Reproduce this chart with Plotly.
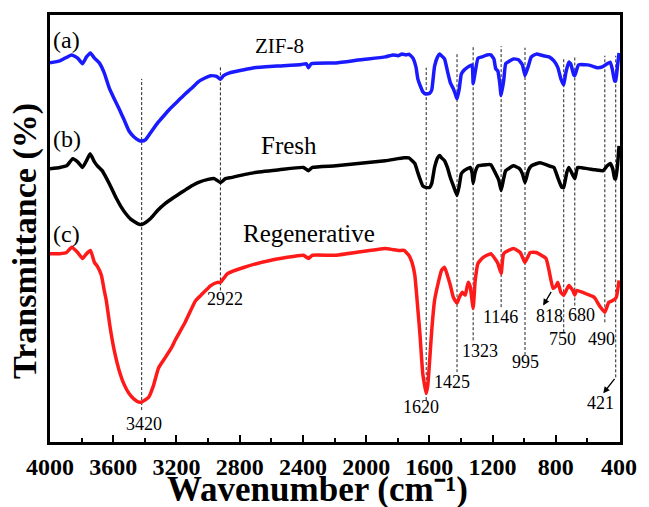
import plotly.graph_objects as go

# FTIR spectra (transmittance, arbitrary offset units)
wn_zif8 = [4000, 3938, 3863, 3825, 3794, 3769, 3744, 3719, 3688, 3657, 3626, 3594, 3563, 3532,
           3501, 3470, 3438, 3420, 3395, 3364, 3314, 3270, 3233, 3189, 3145, 3108, 3064, 3020,
           2983, 2946, 2922, 2902, 2864, 2783, 2708, 2565, 2409, 2378, 2365, 2347, 2191, 2035,
           1879, 1829, 1798, 1773, 1748, 1729, 1704, 1685, 1673, 1660, 1642, 1623, 1598, 1585,
           1567, 1548, 1535, 1523, 1504, 1486, 1467, 1448, 1436, 1425, 1411, 1398, 1380, 1355,
           1330, 1323, 1311, 1292, 1267, 1236, 1211, 1192, 1180, 1167, 1155, 1146, 1130, 1117,
           1093, 1068, 1036, 1011, 995, 974, 955, 924, 880, 843, 812, 787, 768, 750, 737, 718,
           706, 687, 680, 674, 656, 600, 569, 537, 506, 475, 456, 443, 428, 421, 410, 400]
t_zif8 = [95.0, 95.5, 97.0, 96.2, 94.8, 96.5, 97.5, 96.2, 95.0, 92.5, 88.8, 86.0, 83.5, 80.8,
          78.0, 76.5, 75.6, 75.4, 75.8, 77.5, 80.2, 82.2, 83.8, 85.5, 87.2, 88.5, 90.2, 91.2,
          91.8, 91.6, 90.9, 91.8, 92.5, 93.2, 93.8, 94.2, 94.6, 94.8, 93.8, 94.8, 95.0, 95.8,
          96.5, 97.0, 96.8, 97.2, 97.0, 97.2, 96.2, 94.0, 91.0, 89.5, 87.8, 87.2, 87.4, 88.2,
          94.2, 96.5, 97.2, 96.8, 96.0, 93.0, 90.0, 88.5, 87.2, 86.0, 88.5, 92.2, 93.2, 94.0,
          94.5, 89.8, 92.5, 96.2, 96.5, 97.0, 97.0, 96.0, 93.5, 93.0, 90.0, 86.8, 90.5, 94.8,
          95.5, 96.0, 95.8, 94.5, 91.8, 94.2, 96.5, 97.2, 96.8, 96.5, 95.5, 93.8, 91.0, 89.5, 92.5, 95.2,
          94.8, 92.0, 91.8, 92.5, 94.5, 94.5, 94.2, 93.8, 94.0, 94.8, 95.2, 93.5, 90.5, 90.5, 94.2, 97.5]

wn_fresh = [4000, 3938, 3895, 3856, 3825, 3794, 3769, 3746, 3719, 3700, 3670, 3644, 3613, 3582,
            3551, 3520, 3488, 3438, 3420, 3395, 3364, 3320, 3270, 3220, 3170, 3120, 3064, 3000,
            2960, 2922, 2890, 2864, 2708, 2550, 2397, 2365, 2340, 2191, 1879, 1760, 1730, 1692,
            1673, 1660, 1642, 1623, 1598, 1585, 1567, 1548, 1535, 1523, 1504, 1486, 1467, 1448,
            1425, 1411, 1398, 1380, 1342, 1330, 1323, 1311, 1292, 1236, 1211, 1180, 1160, 1146,
            1130, 1117, 1068, 1030, 1011, 995, 974, 955, 899, 843, 812, 787, 762, 750, 731, 718,
            700, 680, 662, 600, 550, 500, 475, 456, 440, 428, 421, 410, 400]
t_fresh = [68.5, 68.8, 69.2, 71.0, 70.2, 68.8, 70.5, 72.2, 70.2, 69.2, 68.0, 66.2, 63.8, 61.2,
           59.0, 57.2, 55.8, 54.6, 54.5, 55.0, 56.0, 58.0, 59.8, 61.2, 62.5, 63.8, 65.0, 65.8,
           66.0, 65.0, 66.0, 66.2, 67.5, 68.2, 68.8, 68.0, 68.8, 69.2, 70.5, 71.2, 71.2, 69.8,
           67.5, 66.0, 64.2, 63.8, 63.8, 64.8, 68.8, 71.2, 71.8, 71.2, 70.5, 68.8, 66.2, 64.2,
           61.8, 64.2, 67.2, 68.0, 68.8, 67.5, 64.8, 67.5, 69.2, 69.5, 69.5, 67.2, 65.5, 63.0,
           66.0, 68.0, 69.2, 68.5, 67.2, 65.0, 68.0, 69.2, 70.0, 69.2, 68.8, 66.2, 63.8, 63.8, 67.5, 68.8,
           67.5, 66.0, 68.8, 68.5, 68.2, 68.0, 69.2, 69.8, 68.5, 66.0, 66.0, 69.2, 74.2]

wn_regen = [4000, 3938, 3895, 3863, 3825, 3794, 3769, 3744, 3719, 3700, 3675, 3657, 3644, 3620,
            3594, 3563, 3532, 3501, 3470, 3438, 3420, 3400, 3376, 3345, 3314, 3270, 3233, 3208,
            3145, 3095, 3077, 3045, 2983, 2940, 2922, 2877, 2770, 2608, 2397, 2365, 2340, 2191,
            1879, 1829, 1792, 1760, 1730, 1710, 1692, 1679, 1660, 1642, 1630, 1620, 1610, 1598,
            1585, 1567, 1548, 1523, 1504, 1486, 1467, 1448, 1425, 1411, 1392, 1373, 1355, 1342,
            1323, 1310, 1292, 1261, 1211, 1186, 1167, 1146, 1130, 1068, 1025, 995, 962, 924, 862,
            843, 818, 800, 787, 768, 750, 718, 693, 680, 668, 600, 556, 525, 490, 465, 437, 418, 400]
t_regen = [47.2, 47.2, 47.5, 48.8, 47.5, 46.0, 47.2, 48.0, 45.0, 44.0, 41.8, 38.0, 35.5, 28.8,
           23.0, 18.0, 14.5, 12.2, 10.8, 10.0, 10.0, 10.5, 11.2, 14.2, 18.5, 21.2, 23.5, 25.5,
           30.0, 34.2, 35.5, 36.8, 39.2, 40.0, 40.0, 42.2, 43.8, 45.5, 46.8, 46.0, 46.8, 46.8,
           48.5, 48.2, 48.0, 48.0, 46.8, 45.0, 41.8, 36.2, 27.2, 17.2, 14.2, 12.2, 14.2, 20.5,
           28.0, 35.5, 39.2, 43.0, 43.8, 41.8, 39.2, 36.2, 34.8, 36.2, 37.5, 36.8, 40.0, 39.0,
           33.5, 40.5, 44.8, 46.2, 47.2, 46.0, 44.8, 42.2, 47.2, 48.5, 47.5, 45.0, 47.5, 47.5, 46.0,
           43.0, 38.5, 39.0, 40.0, 37.5, 36.8, 39.2, 38.0, 36.8, 38.0, 37.0, 36.2, 34.2, 32.5, 35.0, 35.5, 36.2, 40.5]

# Assigned band positions and label text
peak_wn = [3420, 2922, 1620, 1425, 1323, 1146, 995, 750, 680, 490, 421]
peak_top = [91.0, 94.2, 93.8, 97.2, 99.2, 99.2, 98.8, 96.0, 96.8, 96.8, 96.8]
peak_bottom = [8.0, 38.0, 10.5, 17.5, 25.5, 33.8, 21.8, 27.5, 34.2, 30.0, 16.2]

band_labels = ["3420", "2922", "1620", "1425", "1323", "1146", "995", "818", "750", "680", "490", "421"]
band_label_x = [3405, 2895, 1654, 1454, 1280, 1149, 993, 843, 756, 637, 512, 519]
band_label_y = [4.5, 35.8, 8.8, 15.0, 22.8, 31.2, 20.0, 31.5, 25.8, 31.8, 25.8, 9.8]

series_names = ["ZIF-8", "Fresh", "Regenerative"]
series_tags = ["(a)", "(b)", "(c)"]

SERIF = "Liberation Serif"

fig = go.Figure()
for name, wn, t, color in [
    (series_names[0], wn_zif8, t_zif8, "#1a1aff"),
    (series_names[1], wn_fresh, t_fresh, "#000000"),
    (series_names[2], wn_regen, t_regen, "#ff1a1a"),
]:
    fig.add_trace(go.Scatter(x=wn, y=t, mode="lines", name=name,
                             line=dict(color=color, width=3.5, shape="spline", smoothing=0.4),
                             showlegend=False))

shapes = []
for w, top, bot in zip(peak_wn, peak_top, peak_bottom):
    shapes.append(dict(type="line", xref="x", yref="y", x0=w, x1=w, y0=bot, y1=top,
                       line=dict(color="#222222", width=1, dash="3px,2px"), layer="below"))

annotations = []
for txt, x, y in zip(band_labels, band_label_x, band_label_y):
    annotations.append(dict(x=x, y=y, xref="x", yref="y", text=txt, showarrow=False,
                            font=dict(family=SERIF, size=18, color="black")))

# arrows pointing at the 818 and 421 labels
annotations.append(dict(x=880, y=34.2, ax=824, ay=38.0, xref="x", yref="y", axref="x", ayref="y",
                        text="", showarrow=True, arrowhead=2, arrowsize=1, arrowwidth=1.3,
                        arrowcolor="black"))
annotations.append(dict(x=500, y=12.2, ax=421, ay=16.2, xref="x", yref="y", axref="x", ayref="y",
                        text="", showarrow=True, arrowhead=2, arrowsize=1, arrowwidth=1.3,
                        arrowcolor="black"))

# sample tags and names
for tag, y in zip(series_tags, [100.8, 76.0, 52.2]):
    annotations.append(dict(x=3995, y=y, xref="x", yref="y", text=tag, showarrow=False,
                            xanchor="left", font=dict(family=SERIF, size=24, color="black")))
for name, x, y, size in zip(series_names, [2546, 2490, 2359], [99.2, 74.2, 52.2], [21, 25, 25]):
    annotations.append(dict(x=x, y=y, xref="x", yref="y", text=name, showarrow=False,
                            font=dict(family=SERIF, size=size, color="black")))

# axis titles
annotations.append(dict(x=0.47, y=-0.112, xref="paper", yref="paper", xanchor="center",
                        yanchor="middle", borderpad=0, text="<b>Wavenumber (cm⁻¹)</b>",
                        showarrow=False, font=dict(family=SERIF, size=35, color="black")))
annotations.append(dict(x=-0.043, y=0.472, xref="paper", yref="paper", xanchor="center",
                        yanchor="middle", text="<b>Transmittance (%)</b>", showarrow=False,
                        textangle=-90, font=dict(family=SERIF, size=34, color="black")))

fig.update_layout(
    width=649, height=507,
    margin=dict(l=50, r=21, t=14, b=65),
    paper_bgcolor="white", plot_bgcolor="white",
    shapes=shapes, annotations=annotations,
    xaxis=dict(range=[4000, 394], tick0=400, dtick=400, ticks="inside", ticklen=7, tickwidth=2,
               tickcolor="black", showline=True, linewidth=3, linecolor="black", mirror=True,
               showgrid=False, zeroline=False, ticklabelstandoff=1,
               minor=dict(dtick=200, tick0=400, ticks="inside", ticklen=4, tickwidth=2,
                          tickcolor="black", showgrid=False),
               tickfont=dict(family=SERIF, size=24, color="black", weight="bold")),
    yaxis=dict(range=[0, 107], showticklabels=False, ticks="", showline=True, linewidth=3,
               linecolor="black", mirror=True, showgrid=False, zeroline=False),
)

fig.write_html("out.html")
